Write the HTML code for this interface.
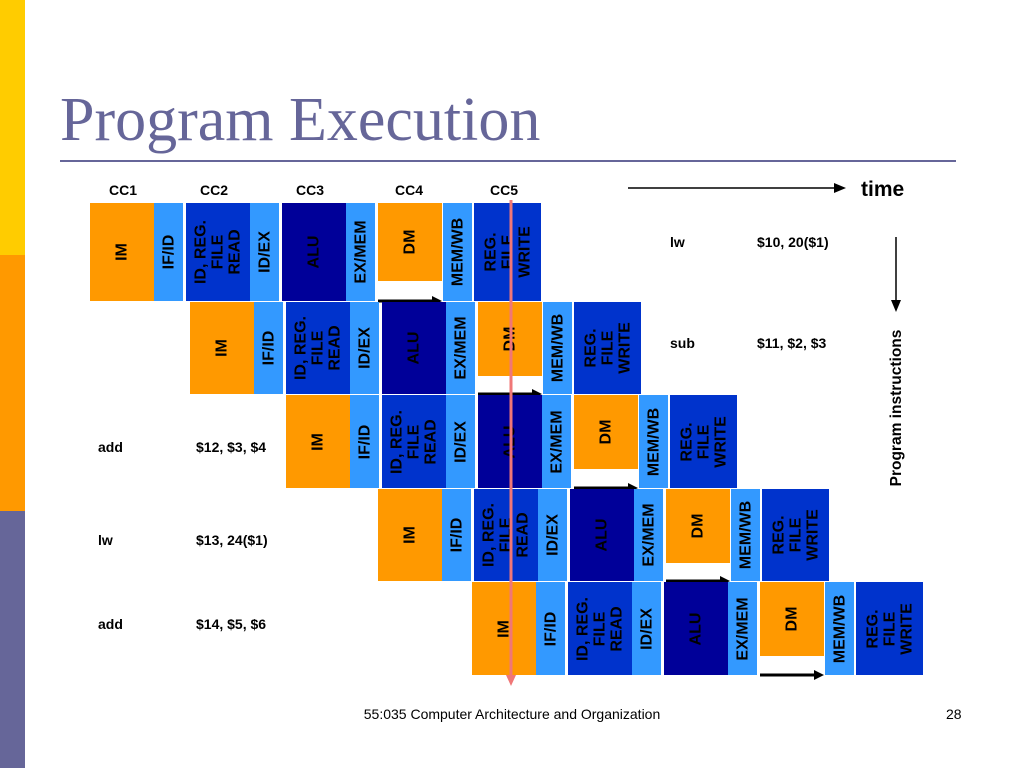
<!DOCTYPE html>
<html><head><meta charset="utf-8"><style>
body{margin:0;width:1024px;height:768px;position:relative;background:#fff;overflow:hidden;font-family:"Liberation Sans",Arial,sans-serif}
.a{position:absolute}
.blk{position:absolute;box-sizing:border-box}
.lbl{position:absolute;left:50%;top:50%;transform:translate(-50%,-50%) rotate(-90deg);white-space:nowrap;font-weight:bold;font-size:16px;line-height:17px;text-align:center;color:#000}
.t{position:absolute;font-weight:bold;font-size:14px;color:#000;white-space:nowrap}
</style></head><body>
<div class="a" style="left:0;top:0;width:25px;height:255px;background:#FFCC00"></div>
<div class="a" style="left:0;top:255px;width:25px;height:256px;background:#FF9900"></div>
<div class="a" style="left:0;top:511px;width:25px;height:257px;background:#666699"></div>
<div class="a" style="left:60px;top:88px;font-family:'Liberation Serif',serif;font-size:62px;line-height:64px;color:#666699">Program Execution</div>
<div class="a" style="left:60px;top:160px;width:896px;height:2px;background:#666699"></div>
<div id="cc"></div>
<div id="pipe"></div>
<svg class="a" style="left:0;top:0" width="1024" height="768">
<line x1="628" y1="188" x2="836" y2="188" stroke="#000" stroke-width="1.5"/><polygon points="846,188 834,183 834,193" fill="#000"/>
<line x1="896" y1="237" x2="896" y2="302" stroke="#000" stroke-width="1.5"/><polygon points="896,312 891,300 901,300" fill="#000"/>
<line x1="511" y1="200" x2="511" y2="676" stroke="#F07777" stroke-width="3"/><polygon points="511,686 506,675 516,675" fill="#F07777"/>
</svg>
<div class="t" style="left:861px;top:178px;font-size:21px">time</div>
<div class="t" style="left:897px;top:408px;transform:translate(-50%,-50%) rotate(-90deg);font-size:15.5px">Program instructions</div>
<div class="t" style="left:670px;top:234px">lw</div>
<div class="t" style="left:757px;top:234px">$10, 20($1)</div>
<div class="t" style="left:670px;top:335px">sub</div>
<div class="t" style="left:757px;top:335px">$11, $2, $3</div>
<div class="t" style="left:98px;top:439px">add</div>
<div class="t" style="left:196px;top:439px">$12, $3, $4</div>
<div class="t" style="left:98px;top:532px">lw</div>
<div class="t" style="left:196px;top:532px">$13, 24($1)</div>
<div class="t" style="left:98px;top:616px">add</div>
<div class="t" style="left:196px;top:616px">$14, $5, $6</div>
<div class="t" style="left:512px;top:706px;transform:translateX(-50%);font-weight:normal">55:035 Computer Architecture and Organization</div>
<div class="t" style="left:946px;top:706px;font-weight:normal">28</div>
<script>
const ccLabels=["CC1","CC2","CC3","CC4","CC5"];
const ccX=[109,200,296,395,490];
const rowX=[90,190,286,378,472];
const rowY=[203,302,395,489,582];
const stages=[["IM",0,64,"#FF9900",1],["IF/ID",64,29,"#3399FF",1],["ID, REG.<br>FILE<br>READ",96,64,"#0033CC",1],["ID/EX",160,29,"#3399FF",1],["ALU",192,64,"#000099",1],["EX/MEM",256,29,"#3399FF",1],["DM",288,64,"#FF9900",0.8],["MEM/WB",353,29,"#3399FF",1],["REG.<br>FILE<br>WRITE",384,67,"#0033CC",1]];
const cc=document.getElementById('cc');
ccLabels.forEach((c,i)=>{const d=document.createElement('div');d.className='t';d.style.left=ccX[i]+'px';d.style.top='182px';d.innerHTML=c;


cc.appendChild(d);});
const p=document.getElementById('pipe');
rowX.forEach((x0,r)=>{const y0=rowY[r];const h=(rowY[r+1]||676)-y0;
stages.forEach(s=>{const b=document.createElement('div');b.className='blk';
b.style.left=(x0+s[1])+'px';b.style.top=y0+'px';b.style.width=s[2]+'px';b.style.height=Math.round((h-1)*s[4])+'px';b.style.background=s[3];
b.innerHTML='<div class="lbl">'+s[0]+'</div>';


p.appendChild(b);});
const ar=document.createElement('div');ar.className='a';
ar.style.left=(x0+288)+'px';ar.style.top=(y0+h-9)+'px';
ar.innerHTML='<svg width="66" height="10"><line x1="0" y1="5" x2="56" y2="5" stroke="#000" stroke-width="3"/><polygon points="64,5 54,0 54,10" fill="#000"/></svg>';


p.appendChild(ar);});
</script>
</body></html>
